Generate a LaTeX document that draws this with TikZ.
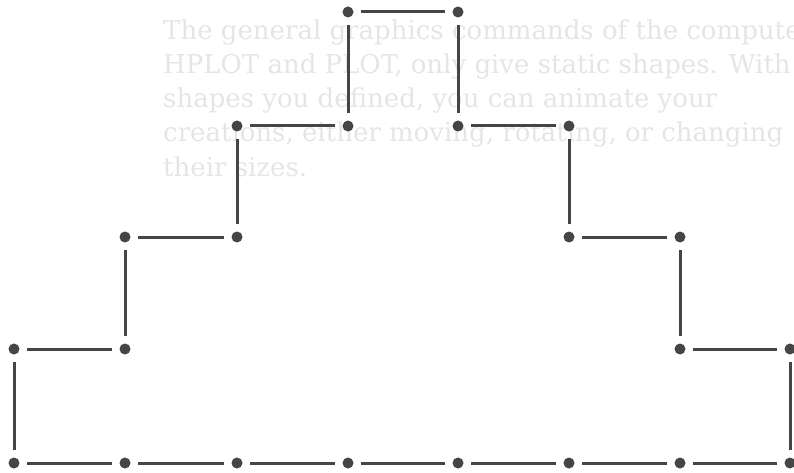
\documentclass[tikz,border=0pt]{standalone}
\usepackage{tikz}
\usepackage{fontspec}
\newfontfamily\ghostfont{DejaVu Serif}

\definecolor{pen}{gray}{0.27}
\definecolor{ghost}{gray}{0.9}

\tikzset{
  pip/.style={circle, fill=pen, inner sep=0pt, minimum size=11pt},
  seg/.style={draw=pen, line width=3pt, shorten <=13pt, shorten >=13pt},
  backtext/.style={anchor=base west, inner sep=0pt, text=ghost,
    font=\ghostfont\fontsize{26}{34}\selectfont}
}

\begin{document}
\begin{tikzpicture}[x=1pt,y=-1pt]
\useasboundingbox (0,0) rectangle (794,473);
% print showing through from the back of the page
\node[backtext] (t1) at (163,40) {The general graphics commands of the computer,};
\node[backtext] (t2) at (163,74) {HPLOT and PLOT, only give static shapes. With};
\node[backtext] (t3) at (163,108) {shapes you defined, you can animate your};
\node[backtext] (t4) at (163,142) {creations, either moving, rotating, or changing};
\node[backtext] (t5) at (163,176) {their sizes.};
% outline points, clockwise from bottom left
\node[pip] (p1) at (14,463) {};
\node[pip] (p2) at (14,349) {};
\node[pip] (p3) at (125,349) {};
\node[pip] (p4) at (125,237) {};
\node[pip] (p5) at (237,237) {};
\node[pip] (p6) at (237,126) {};
\node[pip] (p7) at (348,126) {};
\node[pip] (p8) at (348,12) {};
\node[pip] (p9) at (458,12) {};
\node[pip] (p10) at (458,126) {};
\node[pip] (p11) at (569,126) {};
\node[pip] (p12) at (569,237) {};
\node[pip] (p13) at (680,237) {};
\node[pip] (p14) at (680,349) {};
\node[pip] (p15) at (790,349) {};
\node[pip] (p16) at (790,463) {};
\node[pip] (p17) at (680,463) {};
\node[pip] (p18) at (569,463) {};
\node[pip] (p19) at (458,463) {};
\node[pip] (p20) at (348,463) {};
\node[pip] (p21) at (237,463) {};
\node[pip] (p22) at (125,463) {};
% sides
\foreach \a [evaluate=\a as \b using int(\a+1)] in {1,...,21}
  \draw[seg] (p\a.center) -- (p\b.center);
\draw[seg] (p22.center) -- (p1.center);
\end{tikzpicture}
\end{document}
